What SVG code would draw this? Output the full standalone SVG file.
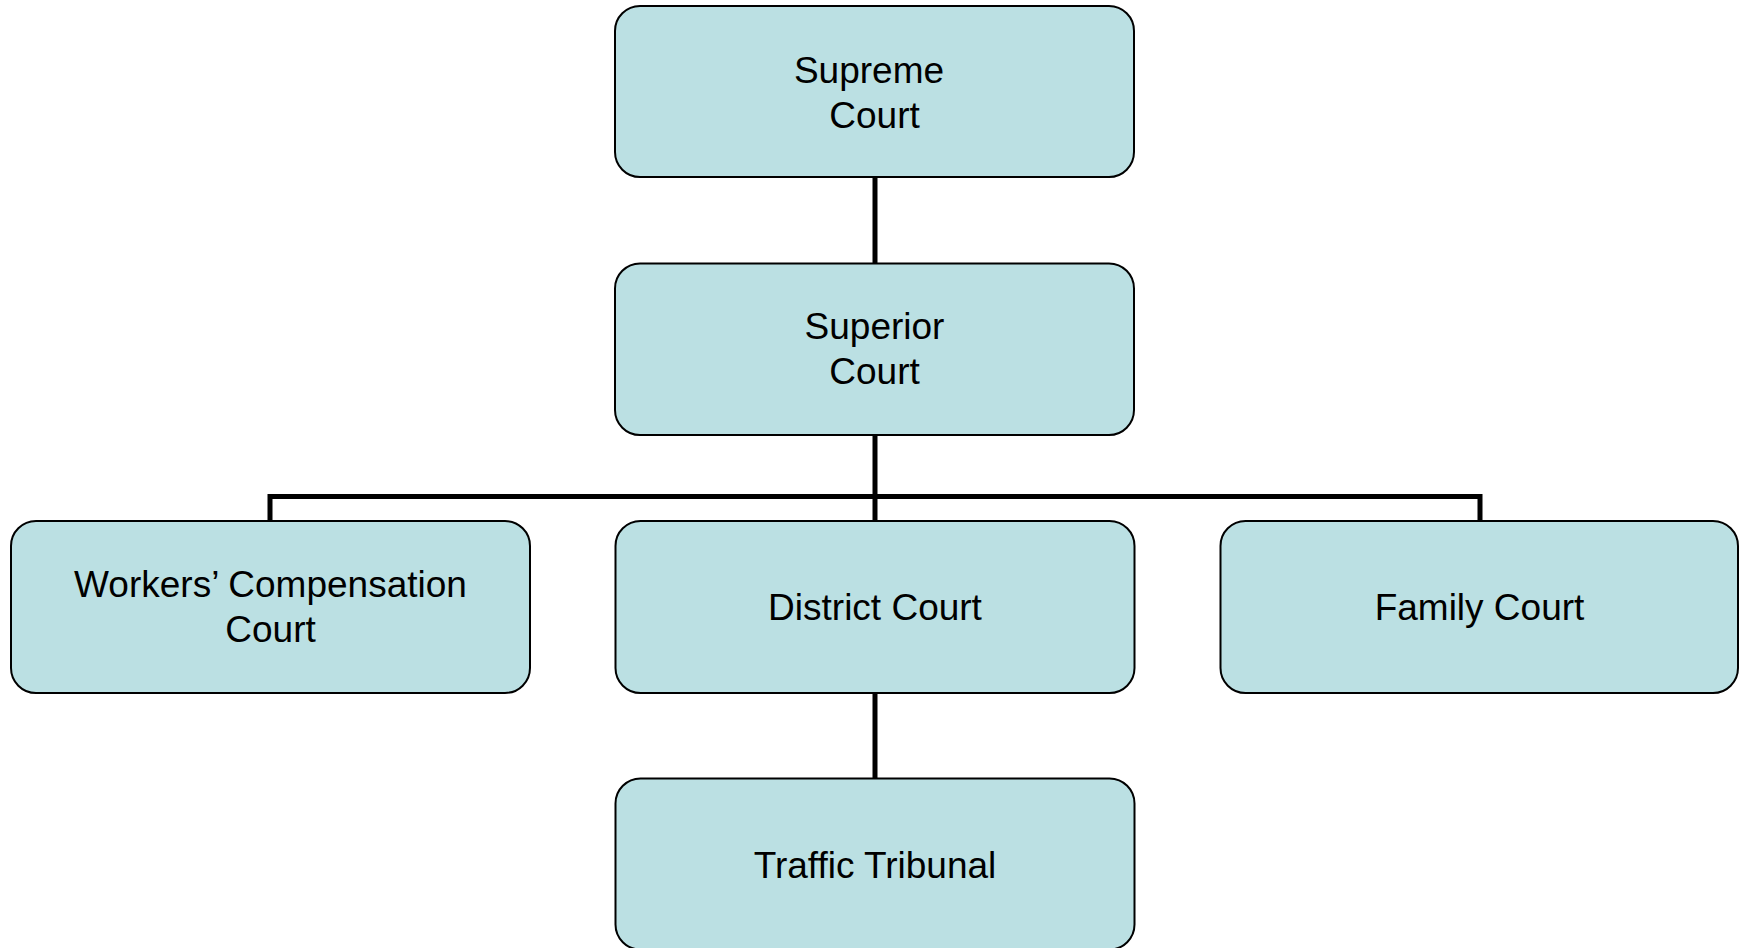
<svg xmlns="http://www.w3.org/2000/svg" width="1741" height="948" viewBox="0 0 1741 948">
<style>
.box{fill:#BBE0E3;stroke:#000;stroke-width:2}
.lbl{font-family:"Liberation Sans",Arial,sans-serif;font-size:37px;fill:#000;text-anchor:middle}
.con{stroke:#000;stroke-width:5;fill:none}
</style>
<rect width="1741" height="948" fill="#fff"/>
<g id="connectors">
<line class="con" x1="875" y1="177" x2="875" y2="264"/>
<line class="con" x1="875" y1="435" x2="875" y2="521"/>
<polyline class="con" points="270,521 270,496.5 1480,496.5 1480,521"/>
<line class="con" x1="875" y1="693" x2="875" y2="778"/>
</g>
<g id="supreme">
<rect class="box" x="615" y="6" width="519" height="171" rx="25"/>
<text class="lbl" x="869" y="83">Supreme</text>
<text class="lbl" x="874.5" y="128">Court</text>
</g>
<g id="superior">
<rect class="box" x="615" y="263.5" width="519" height="171.5" rx="25"/>
<text class="lbl" x="874.5" y="339">Superior</text>
<text class="lbl" x="874.5" y="384">Court</text>
</g>
<g id="workers">
<rect class="box" x="11" y="521" width="519" height="172" rx="25"/>
<text class="lbl" x="270.5" y="597">Workers’ Compensation</text>
<text class="lbl" x="270.5" y="642">Court</text>
</g>
<g id="district">
<rect class="box" x="615.5" y="521" width="519" height="172" rx="25"/>
<text class="lbl" x="875" y="619.5">District Court</text>
</g>
<g id="family">
<rect class="box" x="1220.5" y="521" width="517.5" height="172" rx="25"/>
<text class="lbl" x="1479.5" y="619.5">Family Court</text>
</g>
<g id="traffic">
<rect class="box" x="615.5" y="778.5" width="519" height="171" rx="25"/>
<text class="lbl" x="875" y="878">Traffic Tribunal</text>
</g>
</svg>
